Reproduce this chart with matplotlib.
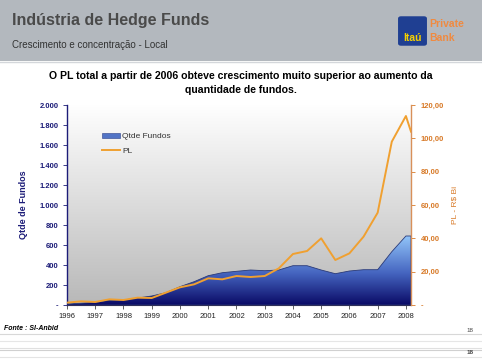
import numpy as np
import matplotlib
matplotlib.use("Agg")
import matplotlib.pyplot as plt
from matplotlib.colors import LinearSegmentedColormap
from matplotlib.patches import FancyBboxPatch, Rectangle, Patch
from matplotlib.lines import Line2D
from matplotlib.ticker import FixedLocator, FuncFormatter

plt.rcParams['font.family'] = ['Liberation Sans', 'DejaVu Sans']

# dados (semestral, ultimo ponto parcial de 2008)
anos = [1996, 1996.5, 1997, 1997.5, 1998, 1998.5, 1999, 1999.5, 2000, 2000.5,
        2001, 2001.5, 2002, 2002.5, 2003, 2003.5, 2004, 2004.5, 2005, 2005.5,
        2006, 2006.5, 2007, 2007.5, 2008, 2008.18]
qtde_fundos = [10, 18, 27, 47, 50, 70, 90, 123, 183, 233,
               293, 323, 337, 350, 343, 350, 393, 393, 350, 313,
               340, 353, 353, 533, 690, 690]
pl_bi = [1.4, 2.2, 1.8, 3.4, 3.0, 4.4, 4.2, 7.4, 10.6, 12.4,
         16.0, 15.4, 17.4, 16.8, 17.4, 22.0, 30.6, 32.4, 40.0, 27.0,
         31.0, 41.0, 55.4, 98.0, 113.4, 104.0]
anos_ticks = list(range(1996, 2009))
ticks_fundos = [0, 200, 400, 600, 800, 1000, 1200, 1400, 1600, 1800, 2000]
ticks_pl = [0, 20, 40, 60, 80, 100, 120]

navy = '#1c1c78'
laranja = '#f0a030'
laranja_txt = '#d87a28'

fig = plt.figure(figsize=(4.82, 3.63), dpi=100)
fig.patch.set_facecolor('white')

# faixa cinza do cabecalho
fig.patches.append(Rectangle((0, 1 - 61 / 363), 1, 61 / 363, transform=fig.transFigure,
                             facecolor='#b3b8be', edgecolor='none', zorder=0))
fig.add_artist(Line2D([0, 1], [1 - 62 / 363, 1 - 62 / 363], transform=fig.transFigure,
                      color='#d4d7db', linewidth=1.0))
fig.text(12 / 482, 1 - 21 / 363, 'Indústria de Hedge Funds', fontsize=11.5, fontweight='bold',
         color='#4a4a4a', va='center', ha='left')
fig.text(12 / 482, 1 - 45 / 363, 'Crescimento e concentração - Local', fontsize=7,
         color='#333333', va='center', ha='left')

# logo
fig.patches.append(FancyBboxPatch((399 / 482, 1 - 45 / 363), 27 / 482, 28 / 363,
                                  boxstyle='round,pad=0.002,rounding_size=0.006',
                                  transform=fig.transFigure, facecolor='#1f3f92',
                                  edgecolor='none', zorder=1))
fig.text(412.5 / 482, 1 - 38 / 363, 'Itaú', fontsize=7.5, fontweight='bold',
         color='#f4d000', ha='center', va='center')
fig.text(429 / 482, 1 - 24 / 363, 'Private', fontsize=7.5, fontweight='bold',
         color='#f08a40', ha='left', va='center')
fig.text(429 / 482, 1 - 38 / 363, 'Bank', fontsize=7.5, fontweight='bold',
         color='#f08a40', ha='left', va='center')

# manchete
fig.text(241 / 482, 1 - 76 / 363,
         'O PL total a partir de 2006 obteve crescimento muito superior ao aumento da',
         fontsize=7.6, fontweight='bold', color='black', ha='center', va='center')
fig.text(241 / 482, 1 - 90 / 363, 'quantidade de fundos.', fontsize=7.6, fontweight='bold',
         color='black', ha='center', va='center')

ax = fig.add_axes([67 / 482, 1 - 305 / 363, 344 / 482, 200 / 363])
ax.set_facecolor('none')

# fundo em degrade
fundo = np.linspace(1, 0, 256).reshape(-1, 1)
cmap_fundo = LinearSegmentedColormap.from_list('fundo', ['#b8b8b8', '#ffffff'])
ax.imshow(fundo, extent=[0, 1, 0, 1], transform=ax.transAxes, aspect='auto',
          cmap=cmap_fundo, zorder=0, origin='upper')

# area Qtde Fundos com degrade
area = ax.fill_between(anos, qtde_fundos, 0, facecolor='none', edgecolor='#2a3a78',
                       linewidth=0.6, zorder=2)
cmap_area = LinearSegmentedColormap.from_list(
    'area', [(0, '#0a0a66'), (0.45, '#4565c0'), (1, '#96cafc')])
grad = np.linspace(0, 1, 256).reshape(-1, 1)
im = ax.imshow(grad, extent=[1996, 2008.18, 0, 700], aspect='auto', cmap=cmap_area,
               origin='lower', zorder=1)
im.set_clip_path(area.get_paths()[0], transform=ax.transData)

ax.set_xlim(1996, 2008.18)
ax.set_ylim(0, 2000)
ax.yaxis.set_major_locator(FixedLocator(ticks_fundos))
ax.yaxis.set_major_formatter(FuncFormatter(
    lambda v, p: '-' if v == 0 else f'{int(v):,}'.replace(',', '.')))
ax.xaxis.set_major_locator(FixedLocator(anos_ticks))
ax.xaxis.set_major_formatter(FuncFormatter(lambda v, p: str(int(v))))
ax.tick_params(axis='y', labelsize=5.5, colors=navy, length=3, width=0.6, pad=3)
ax.tick_params(axis='x', labelsize=5.5, colors='#222222', length=3, width=0.5, pad=3)
for lbl in ax.get_yticklabels():
    lbl.set_fontweight('bold')
ax.spines['top'].set_visible(False)
ax.spines['right'].set_visible(False)
ax.spines['left'].set_color(navy)
ax.spines['left'].set_linewidth(1.0)
ax.spines['bottom'].set_color('#30305a')
ax.spines['bottom'].set_linewidth(0.8)
ax.set_ylabel('Qtde de Fundos', fontsize=6.5, fontweight='bold', color=navy, labelpad=8)

ax2 = ax.twinx()
ax2.plot(anos, pl_bi, color=laranja, linewidth=1.4, zorder=3)
ax2.set_ylim(0, 120)
ax2.yaxis.set_major_locator(FixedLocator(ticks_pl))
ax2.yaxis.set_major_formatter(FuncFormatter(
    lambda v, p: '-' if v == 0 else f'{v:.2f}'.replace('.', ',')))
ax2.tick_params(axis='y', labelsize=5.5, colors=laranja_txt, length=3, width=0.6, pad=4)
for lbl in ax2.get_yticklabels():
    lbl.set_fontweight('bold')
for s in ['top', 'left', 'bottom']:
    ax2.spines[s].set_visible(False)
ax2.spines['right'].set_color('#d8905a')
ax2.spines['right'].set_linewidth(1.0)
ax2.set_ylabel('PL - R$ Bi', fontsize=6, color=laranja_txt, labelpad=5)

handles = [Patch(facecolor='#5274c6', edgecolor='#2a3f8a', linewidth=0.4),
           Line2D([0], [0], color=laranja, linewidth=1.4)]
leg = ax.legend(handles, ['Qtde Fundos', 'PL'], loc='upper left',
                bbox_to_anchor=(0.08, 0.9), frameon=False, fontsize=6,
                handlelength=2.2, handleheight=0.6, labelspacing=0.9, handletextpad=0.2)
for t in leg.get_texts():
    t.set_color('#333333')

# rodape
fig.text(4 / 482, 1 - 328 / 363, 'Fonte : SI-Anbid', fontsize=5, fontweight='bold',
         fontstyle='italic', color='black', ha='left', va='center')
fig.text(470 / 482, 1 - 331 / 363, '18', fontsize=4.5, color='#444444',
         ha='center', va='center')
fig.text(470 / 482, 1 - 353 / 363, '18', fontsize=4.5, fontweight='bold', color='#444444',
         ha='center', va='center')
for y, c in [(334, '#d8d8d8'), (341, '#e6e6e6'), (348, '#e0e0e0'), (350, '#d0d0d0'), (357, '#e4e4e4')]:
    fig.add_artist(Line2D([0, 1], [1 - y / 363, 1 - y / 363], transform=fig.transFigure,
                          color=c, linewidth=0.8))

fig.savefig('out.png', dpi=100)
